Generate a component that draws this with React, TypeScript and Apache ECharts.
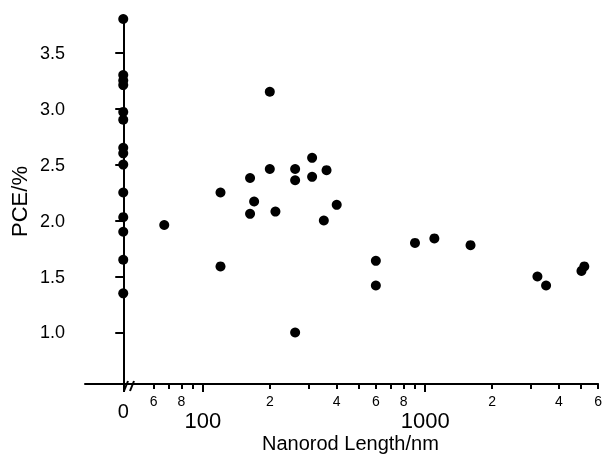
import React, { useEffect, useRef } from "react";
import * as echarts from "echarts";

// PCE values of the "0 nm" (no nanorod) devices
const zeroPCE = [3.8, 3.3, 3.25, 3.21, 2.97, 2.9, 2.65, 2.6, 2.5, 2.25, 2.03, 1.9, 1.65, 1.35];
// Nanorod length (nm) and PCE (%)
const lengths = [67, 120, 120, 163, 163, 170, 200, 200, 212, 260, 260, 260, 310, 310, 350, 360, 400, 600, 600, 900, 1100, 1600, 3200, 3500, 5050, 5200];
const pces = [1.96, 2.25, 1.59, 2.38, 2.06, 2.17, 3.15, 2.46, 2.08, 2.46, 2.36, 1.0, 2.56, 2.39, 2.0, 2.45, 2.14, 1.64, 1.42, 1.8, 1.84, 1.78, 1.5, 1.42, 1.55, 1.59];

const yTicks = [1.0, 1.5, 2.0, 2.5, 3.0, 3.5];
const minorTicks = [60, 70, 80, 90, 200, 300, 400, 500, 600, 700, 800, 900, 2000, 3000, 4000, 5000, 6000];
const minorLabels = [60, 80, 200, 400, 600, 800, 2000, 4000, 6000];
const majorTicks = [100, 1000];

const FONT = "'Liberation Sans', Arial, sans-serif";
const BLACK = "#000";

export default function App() {
  const ref = useRef<HTMLDivElement>(null);
  useEffect(() => {
    if (!ref.current) return;
    const chart = echarts.init(ref.current, undefined, { renderer: "svg" });
    const yMin = 0.54;
    const yMax = 3.8;
    const axisLine = { show: true, lineStyle: { color: BLACK, width: 2 } };
    chart.setOption({
      animation: false,
      textStyle: { fontFamily: FONT, color: BLACK },
      grid: [
        { left: 85, width: 51, top: 19, bottom: 71 },
        { left: 136, right: 5, top: 19, bottom: 71 },
      ],
      xAxis: [
        {
          gridIndex: 0,
          type: "value",
          min: -3,
          max: 1,
          axisLine,
          axisTick: { show: true, customValues: [0], length: 8, lineStyle: { color: BLACK, width: 2 } },
          axisLabel: { customValues: [0], formatter: () => "0", fontSize: 20, margin: 17, color: BLACK, fontFamily: FONT },
          splitLine: { show: false },
        },
        {
          gridIndex: 1,
          type: "log",
          logBase: 10,
          min: 50,
          max: 6000,
          axisLine,
          axisTick: { show: true, customValues: minorTicks, length: 5, lineStyle: { color: BLACK, width: 2 } },
          axisLabel: {
            customValues: minorLabels,
            formatter: (v: number) => String(Math.round(v / Math.pow(10, Math.floor(Math.log10(v) + 1e-9)))),
            fontSize: 14,
            margin: 10,
            color: BLACK,
            fontFamily: FONT,
          },
          splitLine: { show: false },
        },
        {
          gridIndex: 1,
          type: "log",
          logBase: 10,
          min: 50,
          max: 6000,
          position: "bottom",
          axisLine: { show: false },
          axisTick: { show: true, customValues: majorTicks, length: 8, lineStyle: { color: BLACK, width: 2 } },
          axisLabel: {
            customValues: majorTicks,
            formatter: (v: number) => String(Math.round(v)),
            fontSize: 22,
            margin: 25,
            color: BLACK,
            fontFamily: FONT,
          },
          splitLine: { show: false },
        },
      ],
      yAxis: [
        {
          gridIndex: 0,
          type: "value",
          min: yMin,
          max: yMax,
          position: "left",
          axisLine,
          axisTick: { show: true, customValues: yTicks, length: 8, lineStyle: { color: BLACK, width: 2 } },
          axisLabel: {
            customValues: yTicks,
            formatter: (v: number) => v.toFixed(1),
            fontSize: 18,
            margin: 20,
            color: BLACK,
            fontFamily: FONT,
          },
          splitLine: { show: false },
          name: "PCE/%",
          nameLocation: "middle",
          nameGap: 55,
          nameTextStyle: { fontSize: 22, color: BLACK, fontFamily: FONT },
        },
        {
          gridIndex: 1,
          type: "value",
          min: yMin,
          max: yMax,
          show: false,
        },
      ],
      series: [
        {
          type: "scatter",
          xAxisIndex: 0,
          yAxisIndex: 0,
          clip: false,
          symbolSize: 10,
          itemStyle: { color: BLACK, opacity: 1 },
          data: zeroPCE.map((v) => [0, v]),
          markLine: {
            silent: true,
            symbol: ["none", "none"],
            label: { show: false },
            lineStyle: { color: BLACK, width: 2, type: "solid", opacity: 1 },
            data: [{ xAxis: 0 }],
          },
        },
        {
          type: "scatter",
          xAxisIndex: 1,
          yAxisIndex: 1,
          clip: false,
          symbolSize: 10,
          itemStyle: { color: BLACK, opacity: 1 },
          data: lengths.map((l, i) => [l, pces[i]]),
        },
      ],
      graphic: [
        { type: "line", shape: { x1: 124, y1: 391, x2: 128, y2: 381 }, style: { stroke: BLACK, lineWidth: 2 } },
        { type: "line", shape: { x1: 130, y1: 391, x2: 134, y2: 381 }, style: { stroke: BLACK, lineWidth: 2 } },
        {
          type: "text",
          left: 262,
          top: 433,
          style: { text: "Nanorod Length/nm", font: `20px ${FONT}`, fill: BLACK },
        },
      ],
    });
    return () => chart.dispose();
  }, []);
  return <div ref={ref} style={{ position: "fixed", left: 0, top: 0, width: 605, height: 455 }} />;
}
